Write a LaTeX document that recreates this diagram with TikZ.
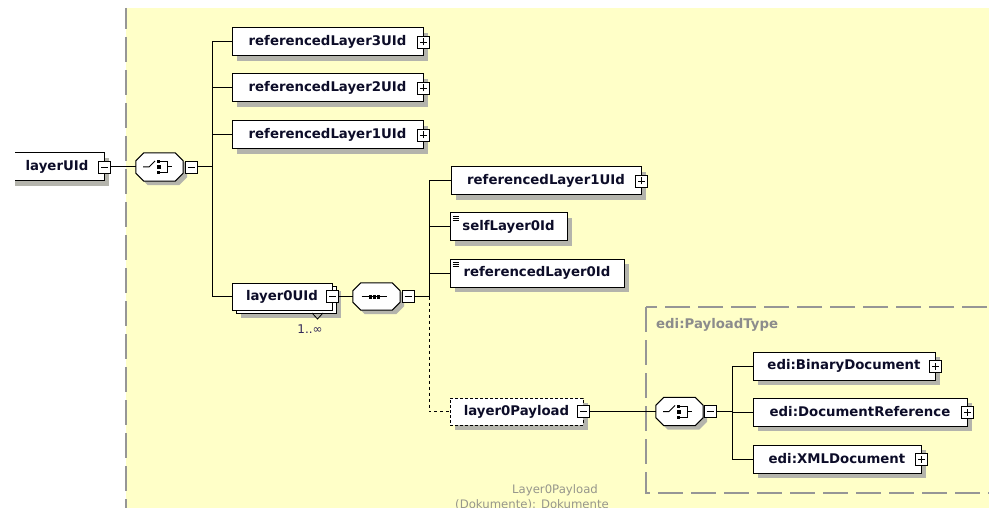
\documentclass[tikz,border=0pt]{standalone}
\usepackage{fontspec}
\setmainfont{DejaVu Sans}
\usetikzlibrary{shadows,calc}
\definecolor{bgy}{RGB}{255,255,200}
\definecolor{shc}{RGB}{180,180,172}
\definecolor{txt}{RGB}{12,12,40}
\definecolor{lbl}{RGB}{140,140,140}
\definecolor{faint}{RGB}{150,150,140}
\definecolor{occ}{RGB}{50,40,90}
\definecolor{dashg}{RGB}{150,150,150}
\tikzset{
  elembase/.style={draw=black, line width=1pt, fill=white, minimum height=28pt, inner sep=0pt,
    text=txt, font=\fontsize{13.3}{15}\selectfont\bfseries},
  elem/.style={elembase, general shadow={fill=shc, shadow xshift=5pt, shadow yshift=-5pt}},
  multielem/.style={elembase, general shadow={fill=shc, shadow xshift=9pt, shadow yshift=-8pt},
    copy shadow={shadow xshift=4pt, shadow yshift=-3pt}},
  xbox/.style={draw=black, line width=0.9pt, fill=white, minimum size=12pt, inner sep=0pt},
  minusbox/.style={xbox, path picture={\draw[line width=0.9pt] ([xshift=2.5pt]path picture bounding box.west) -- ([xshift=-2.5pt]path picture bounding box.east);}},
  plusbox/.style={xbox, path picture={\draw[line width=0.9pt] ([xshift=2.5pt]path picture bounding box.west) -- ([xshift=-2.5pt]path picture bounding box.east);
     \draw[line width=0.9pt] ([yshift=2.5pt]path picture bounding box.south) -- ([yshift=-2.5pt]path picture bounding box.north);}},
  compo/.style={draw=none, minimum width=47pt, minimum height=28pt, inner sep=0pt},
  octo/.style={draw=black, line width=1pt, fill=white, general shadow={fill=shc, shadow xshift=4pt, shadow yshift=-4pt}},
  conn/.style={draw=black, line width=1pt},
  dotconn/.style={draw=black, line width=1pt, dash pattern=on 3pt off 3pt},
}
\newcommand\octpath[1]{([shift={(8,0)}]#1.north west) -- ([shift={(-8,0)}]#1.north east) -- ([shift={(0,8)}]#1.north east) -- ([shift={(0,-8)}]#1.south east) -- ([shift={(-8,0)}]#1.south east) -- ([shift={(8,0)}]#1.south west) -- ([shift={(0,-8)}]#1.south west) -- ([shift={(0,8)}]#1.north west) -- cycle}
\newcommand\choiceicon[1]{%
  \begin{scope}[shift={(#1.center)}]
    \draw[line width=1pt] (-16.5,0) -- (-10.5,0) -- (-4.5,-6);
    \fill[black] (-2.5,-7) rectangle (0.5,-4);
    \fill[black] (-2.5,-2) rectangle (1.5,2);
    \fill[black] (-2.5,4) rectangle (0.5,7);
    \draw[line width=1pt] (0.5,-5.5) -- (7.5,-5.5) -- (7.5,5.5) -- (0.5,5.5);
    \draw[line width=1pt] (7.5,0) -- (12.5,0);
  \end{scope}}
\newcommand\seqicon[1]{%
  \begin{scope}[shift={(#1.center)}]
    \draw[line width=1pt] (-15,0) -- (10,0);
    \fill[black] (-8,-2) rectangle (-5,2);
    \fill[black] (-4,-2) rectangle (-1,2);
    \fill[black] (0,-2) rectangle (3,2);
  \end{scope}}
\newcommand\simpleicon[1]{%
  \draw[line width=0.8pt] ([shift={(3,3.5)}]#1.north west) -- ++(6,0)
    ([shift={(3,5.5)}]#1.north west) -- ++(6,0)
    ([shift={(3,7.5)}]#1.north west) -- ++(6,0);}
\begin{document}
\begin{tikzpicture}[x=1pt,y=-1pt]
\useasboundingbox (0,0) rectangle (989,508);
\clip (0,0) rectangle (989,508);
% background
\fill[bgy] (126,8) rectangle (989,508);
\draw[dashg, line width=1.5pt, dash pattern=on 25pt off 8pt, dash phase=4pt] (126,8) -- (126,508);
% payload type box
\draw[dashg, line width=1.2pt, dash pattern=on 25pt off 8pt] (646,307) rectangle (1010,493);
\node[anchor=west, text=lbl, font=\fontsize{13.3}{15}\selectfont\bfseries, inner sep=0pt] (ptype) at (656,325) {edi:PayloadType};
% root
\node[elem, minimum width=94pt] (lu) at (57,167) {layerUId};
\fill[white] (0,0) rectangle (15,200);
\node[minusbox] (lux) at (lu.east) {};
% first choice
\node[compo] (c1) at (159.5,167) {};
\draw[octo] \octpath{c1};
\choiceicon{c1}
\node[minusbox] (c1x) at (191,167) {};
\coordinate (b1) at (212,167);
% first level children
\node[elem, minimum width=191pt] (r3) at (327.5,42) {referencedLayer3UId};
\node[plusbox] (r3x) at (r3.east) {};
\node[elem, minimum width=191pt] (r2) at (327.5,88) {referencedLayer2UId};
\node[plusbox] (r2x) at (r2.east) {};
\node[elem, minimum width=191pt] (r1) at (327.5,135) {referencedLayer1UId};
\node[plusbox] (r1x) at (r1.east) {};
\node[multielem, minimum width=100pt, minimum height=27pt] (l0) at (282,296.5) {layer0UId};
\node[minusbox] (l0x) at (l0.east) {};
\draw[line width=0.8pt] (312,313) -- (317.5,319) -- (323,313);
\node[text=occ, font=\fontsize{12}{14}\selectfont, inner sep=0pt] (l0o) at (310,329) {1..∞};
% sequence
\node[compo, minimum height=27pt] (c2) at (376.5,296.5) {};
\draw[octo] \octpath{c2};
\seqicon{c2}
\node[minusbox] (c2x) at (408,296.5) {};
\coordinate (b2) at (429,296.5);
% second level
\node[elem, minimum width=190pt] (s1) at (546,181) {referencedLayer1UId};
\node[plusbox] (s1x) at (s1.east) {};
\node[elem, minimum width=117pt] (s2) at (508.5,227) {selfLayer0Id};
\simpleicon{s2}
\node[elem, minimum width=174pt] (s3) at (537,273) {referencedLayer0Id};
\simpleicon{s3}
\node[elem, minimum width=133pt, minimum height=27pt, dash pattern=on 3pt off 2pt] (s4) at (516.5,411.5) {layer0Payload};
\node[minusbox] (s4x) at (s4.east) {};
% second choice
\node[compo] (c3) at (679.5,411.5) {};
\draw[octo] \octpath{c3};
\choiceicon{c3}
\node[minusbox] (c3x) at (710,411.5) {};
\coordinate (b3) at (732,411.5);
\node[elem, minimum width=182pt] (e1) at (844,366) {edi:BinaryDocument};
\node[plusbox] (e1x) at (e1.east) {};
\node[elem, minimum width=214pt] (e2) at (860,412) {edi:DocumentReference};
\node[plusbox] (e2x) at (e2.east) {};
\node[elem, minimum width=168pt] (e3) at (837,459) {edi:XMLDocument};
\node[plusbox] (e3x) at (e3.east) {};
% footer labels
\node[text=faint, font=\fontsize{11.7}{14}\selectfont, inner sep=0pt] (f1) at (555,490) {Layer0Payload};
\node[text=faint, font=\fontsize{11.7}{14}\selectfont, inner sep=0pt] (f2) at (532,505) {(Dokumente): Dokumente};
% connectors
\draw[conn] (lux.east) -- (c1.west);
\draw[conn] (c1x.east) -- (b1);
\draw[conn] (b1) |- (r3.west);
\draw[conn] (b1) |- (r2.west);
\draw[conn] (b1) |- (r1.west);
\draw[conn] (b1) |- (l0.west);
\draw[conn] (l0x.east) -- (c2.west);
\draw[conn] (c2x.east) -- (b2);
\draw[conn] (b2) |- (s1.west);
\draw[conn] (b2) |- (s2.west);
\draw[conn] (b2) |- (s3.west);
\draw[dotconn] (b2) |- (s4.west);
\draw[conn] (s4x.east) -- (c3.west);
\draw[conn] (c3x.east) -- (b3);
\draw[conn] (b3) |- (e1.west);
\draw[conn] (b3) |- (e2.west);
\draw[conn] (b3) |- (e3.west);
\end{tikzpicture}
\end{document}
